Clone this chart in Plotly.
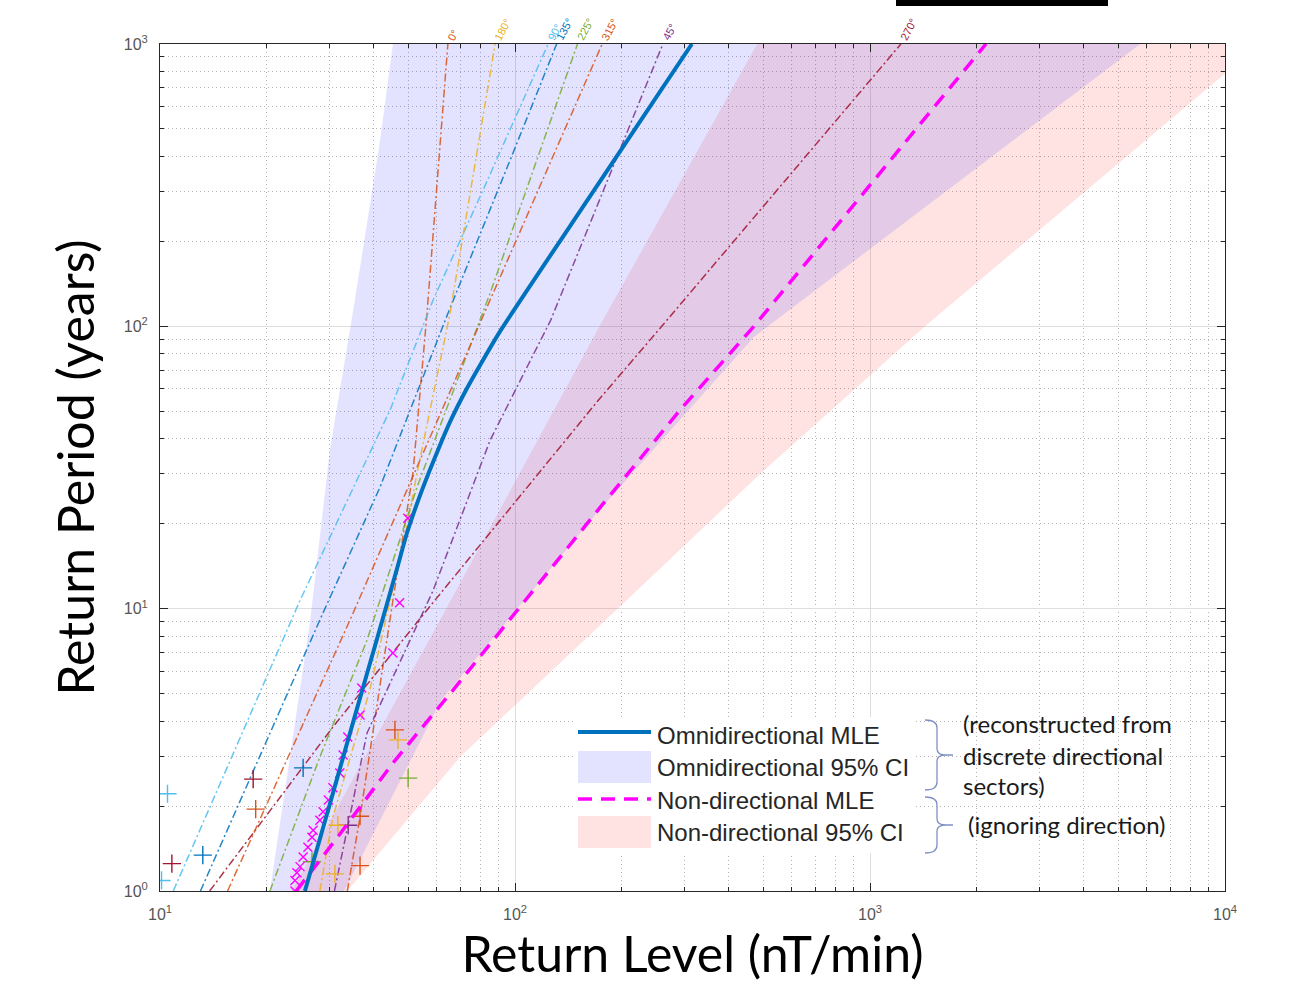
import numpy as np
import plotly.graph_objects as go

# ---------------- data ----------------
x_tickvals = [10, 100, 1000, 10000]
x_ticktext = ["10<sup>1</sup>", "10<sup>2</sup>", "10<sup>3</sup>", "10<sup>4</sup>"]
y_tickvals = [1, 10, 100, 1000]
y_ticktext = ["10<sup>0</sup>", "10<sup>1</sup>", "10<sup>2</sup>", "10<sup>3</sup>"]

# Omnidirectional MLE (return period in years, return level in nT/min)
omni_T = [1.0, 1.89, 2.98, 4.38, 7.94, 13.7, 18.5, 26.3, 36.5, 46.6, 59.5, 76.0,
          97.1, 280, 1000]
omni_RL = [25.6, 29.6, 32.8, 35.8, 41.0, 46.4, 49.6, 54.7, 60.7, 66.0, 72.8, 81.3,
           91.3, 160, 315]

# Omnidirectional 95% CI
omni_lo_T = [1.0, 4.38, 9.12, 36.5, 124, 457, 1000]
omni_lo_RL = [20.4, 24.3, 26.5, 30.1, 35.4, 41.7, 45.3]
omni_hi_T = [1.0, 4.75, 22.0, 91.7, 1000]
omni_hi_RL = [33.0, 62.0, 171, 471, 5768]

# Non-directional MLE
nd_T = [1.0, 1.54, 2.84, 5.15, 23.3, 51.4, 100, 312, 1000]
nd_RL = [24.2, 31.5, 45.3, 66.9, 176, 295, 471, 994, 2122]

# Non-directional 95% CI
nd_lo_T = [1.0, 9.12, 100, 1000]
nd_lo_RL = [23.5, 61.5, 173, 481]
nd_hi_T = [1.0, 2.98, 11.0, 30.5, 100, 771, 1000]
nd_hi_RL = [33.7, 70.0, 211, 497, 1429, 9820, 12500]

# Non-directional empirical points
nd_emp_T = [1.0, 1.09, 1.16, 1.22, 1.32, 1.43, 1.55, 1.64, 1.78, 1.91,
            2.10, 2.32, 2.62, 3.03, 3.51, 4.20, 5.24, 6.97, 10.5, 20.9]
nd_emp_RL = [24.0, 24.0, 24.3, 24.8, 25.3, 26.1, 26.8, 27.0, 28.2, 28.8,
             29.8, 30.7, 32.1, 32.8, 33.8, 36.6, 37.0, 45.3, 47.3, 49.9]

# Directional sector fits
dir_labels = ["0°", "45°", "90°", "135°", "180°", "225°", "270°", "315°"]
T_0 = [1.0, 1.83, 10.7, 30.3, 111, 1000]
RL_0 = [33.7, 36.6, 45.3, 51.6, 56.5, 64.7]
T_45 = [1.0, 3.63, 11.6, 39.5, 105, 484, 1000]
RL_45 = [31.0, 38.3, 58.8, 85.1, 126, 207, 261]
T_90 = [1.0, 10.7, 50.6, 124, 304, 1000]
RL_90 = [10.9, 24.8, 44.5, 58.8, 81.3, 124]
T_135 = [1.0, 9.12, 27.0, 111, 411, 1000]
RL_135 = [13.0, 28.2, 41.7, 64.7, 98.7, 131]
T_180 = [1.0, 1.83, 5.15, 19.5, 30.3, 111, 1000]
RL_180 = [28.2, 30.7, 39.0, 49.6, 53.0, 65.6, 87.9]
T_225 = [1.0, 2.98, 7.74, 27.0, 131, 411, 1000]
RL_225 = [20.4, 28.2, 38.3, 53.0, 85.1, 117, 150]
T_270 = [1.0, 3.81, 10.0, 54.4, 100, 1000]
RL_270 = [13.8, 30.7, 56.9, 171, 259, 1222]
T_315 = [1.0, 9.12, 31.8, 117, 398, 1000]
RL_315 = [15.5, 34.3, 53.0, 83.4, 128, 176]

# Directional empirical points
emp_T_0 = [1.23, 3.72]
emp_RL_0 = [36.6, 45.9]
emp_T_45 = [1.71]
emp_RL_45 = [33.9]
emp_T_90 = [2.21, 1.09]
emp_RL_90 = [10.5, 10.1]
emp_T_135 = [1.34, 2.73]
emp_RL_135 = [13.2, 25.3]
emp_T_180 = [1.15, 1.71, 3.43]
emp_RL_180 = [31.1, 31.7, 46.8]
emp_T_225 = [1.27, 2.51]
emp_RL_225 = [26.8, 50.0]
emp_T_270 = [1.25, 2.49]
emp_RL_270 = [10.8, 18.3]
emp_T_315 = [1.95, 1.84]
emp_RL_315 = [18.6, 36.6]

legend_labels = ["Omnidirectional MLE", "Omnidirectional 95% CI",
                 "Non-directional MLE", "Non-directional 95% CI"]
note_lines_1 = ["(reconstructed from", "discrete directional", "sectors)"]
note_line_2 = "(ignoring direction)"

# ---------------- styles ----------------
dir_colors = ["#D95319", "#7E2F8E", "#4DBEEE", "#0072BD",
              "#EDB120", "#77AC30", "#A2142F", "#D95319"]
dir_curves = [(T_0, RL_0), (T_45, RL_45), (T_90, RL_90), (T_135, RL_135),
              (T_180, RL_180), (T_225, RL_225), (T_270, RL_270), (T_315, RL_315)]
dir_emp = [(emp_T_0, emp_RL_0), (emp_T_45, emp_RL_45), (emp_T_90, emp_RL_90),
           (emp_T_135, emp_RL_135), (emp_T_180, emp_RL_180), (emp_T_225, emp_RL_225),
           (emp_T_270, emp_RL_270), (emp_T_315, emp_RL_315)]

OMNI_FILL = "rgba(40,40,255,0.13)"
ND_FILL = "rgba(255,40,40,0.13)"
BLUE = "#0072BD"
MAG = "#FF00FF"

fig = go.Figure()

# CI bands
fig.add_trace(go.Scatter(x=nd_lo_RL + nd_hi_RL[::-1], y=nd_lo_T + nd_hi_T[::-1],
                         fill="toself", fillcolor=ND_FILL, mode="none",
                         name=legend_labels[3], hoverinfo="skip"))
fig.add_trace(go.Scatter(x=omni_lo_RL + omni_hi_RL[::-1], y=omni_lo_T + omni_hi_T[::-1],
                         fill="toself", fillcolor=OMNI_FILL, mode="none",
                         name=legend_labels[1], hoverinfo="skip"))

# directional curves
for lab, col, (tt, rr) in zip(dir_labels, dir_colors, dir_curves):
    fig.add_trace(go.Scatter(x=rr, y=tt, mode="lines", name=lab, opacity=0.85,
                             line=dict(color=col, width=1.5, dash="8px,3px,2px,3px")))
# directional empirical points
for lab, col, (tt, rr) in zip(dir_labels, dir_colors, dir_emp):
    fig.add_trace(go.Scatter(x=rr, y=tt, mode="markers", name=lab + " data",
                             marker=dict(symbol="cross-thin", size=13,
                                         line=dict(color=col, width=1.4))))

# non-directional empirical points
fig.add_trace(go.Scatter(x=nd_emp_RL, y=nd_emp_T, mode="markers", name="Non-directional data",
                         marker=dict(symbol="x-thin", size=9, line=dict(color=MAG, width=1.4))))

# MLE curves
fig.add_trace(go.Scatter(x=nd_RL, y=nd_T, mode="lines", name=legend_labels[2],
                         line=dict(color=MAG, width=3.5, dash="14px,9px")))
fig.add_trace(go.Scatter(x=omni_RL, y=omni_T, mode="lines", name=legend_labels[0],
                         line=dict(color=BLUE, width=4, shape="spline", smoothing=0.6)))

# ---------------- layout ----------------
W, H = 1303, 989
L, R, T, B = 160, 1225, 44, 891


def pxx(v):
    return (v - L) / (R - L)


def pyy(v):
    return (B - v) / (B - T)


axis_common = dict(
    type="log", ticks="inside", ticklen=8, tickcolor="#262626",
    showline=True, linecolor="#262626", linewidth=1, mirror="ticks",
    showgrid=True, gridcolor="#dedede", gridwidth=1, zeroline=False,
    tickmode="array",
    tickfont=dict(family="Liberation Sans, Arial, sans-serif", size=16, color="#555555"),
    minor=dict(dtick="D1", ticks="inside", ticklen=4, tickcolor="#262626",
               showgrid=True, gridcolor="#b4b4b4", griddash="1px,3px", gridwidth=1),
)

fig.update_layout(
    width=W, height=H,
    margin=dict(l=L, r=W - R, t=T, b=H - B, autoexpand=False),
    paper_bgcolor="white", plot_bgcolor="white", showlegend=False,
    xaxis=dict(axis_common, range=[1, 4], tickvals=x_tickvals, ticktext=x_ticktext,
               ticklabelstandoff=9,
               title=dict(text="Return Level (nT/min)",
                          font=dict(family="Lato", size=50, color="black"), standoff=0)),
    yaxis=dict(axis_common, range=[0, 3], tickvals=y_tickvals, ticktext=y_ticktext,
               ticklabelstandoff=8,
               title=dict(text="Return Period (years)",
                          font=dict(family="Lato", size=50, color="black"), standoff=13)),
)

shapes = []
annotations = []

# direction labels at the top ends of the sector curves
for lab, col, (tt, rr) in zip(dir_labels, dir_colors, dir_curves):
    w = 6.2 * len(lab)
    annotations.append(dict(
        x=np.log10(rr[-1]), y=np.log10(tt[-1]), xref="x", yref="y",
        text=lab, showarrow=False, textangle=-62,
        font=dict(family="Liberation Sans, Arial", size=11, color=col),
        xanchor="center", yanchor="middle",
        xshift=w / 2 * 0.47 + 2, yshift=w / 2 * 0.88 + 4))

# legend box
shapes.append(dict(type="rect", xref="paper", yref="paper", layer="above",
                   x0=pxx(575), x1=pxx(915), y0=pyy(853), y1=pyy(717),
                   fillcolor="white", line=dict(width=0)))
shapes.append(dict(type="line", xref="paper", yref="paper", layer="above",
                   x0=pxx(578), x1=pxx(651), y0=pyy(732), y1=pyy(732),
                   line=dict(color=BLUE, width=4)))
shapes.append(dict(type="rect", xref="paper", yref="paper", layer="above",
                   x0=pxx(578), x1=pxx(651), y0=pyy(783), y1=pyy(751),
                   fillcolor=OMNI_FILL, line=dict(width=0)))
shapes.append(dict(type="line", xref="paper", yref="paper", layer="above",
                   x0=pxx(578), x1=pxx(651), y0=pyy(799), y1=pyy(799),
                   line=dict(color=MAG, width=3.5, dash="14px,9px")))
shapes.append(dict(type="rect", xref="paper", yref="paper", layer="above",
                   x0=pxx(578), x1=pxx(651), y0=pyy(848), y1=pyy(816),
                   fillcolor=ND_FILL, line=dict(width=0)))
for lab, yy in zip(legend_labels, [735, 767, 800, 832]):
    annotations.append(dict(x=pxx(655), y=pyy(yy), xref="paper", yref="paper",
                            text=lab, showarrow=False, xanchor="left", yanchor="middle",
                            font=dict(family="Liberation Sans, Arial", size=24, color="#262626")))


# curly braces
def brace(ytop, ybot, x0=925, xs=937, xt=946, xe=953):
    ym = (ytop + ybot) / 2
    pts = [
        ("M", [(x0, ytop)]),
        ("Q", [(xs, ytop), (xs, ytop + 8)]),
        ("L", [(xs, ym - 6)]),
        ("Q", [(xs, ym), (xt, ym)]),
        ("Q", [(xs, ym), (xs, ym + 6)]),
        ("L", [(xs, ybot - 8)]),
        ("Q", [(xs, ybot), (x0, ybot)]),
        ("M", [(xt, ym)]),
        ("L", [(xe, ym)]),
    ]
    s = ""
    for cmd, pp in pts:
        s += cmd + " " + " ".join("%.5f,%.5f" % (pxx(a), pyy(b)) for a, b in pp) + " "
    return s.strip()


for yt, yb in [(720, 790), (797, 853)]:
    shapes.append(dict(type="path", xref="paper", yref="paper", layer="above",
                       path=brace(yt, yb), line=dict(color="#7f90c4", width=1.3)))

for txt, yy in zip(note_lines_1, [723, 755, 785]):
    annotations.append(dict(x=pxx(961), y=pyy(yy), xref="paper", yref="paper",
                            text=txt, showarrow=False, xanchor="left", yanchor="middle",
                            font=dict(family="Lato", size=24, color="#1a1a1a")))
annotations.append(dict(x=pxx(966), y=pyy(824), xref="paper", yref="paper",
                        text=note_line_2, showarrow=False, xanchor="left", yanchor="middle",
                        font=dict(family="Lato", size=24, color="#1a1a1a")))

# black bar at the top of the slide
shapes.append(dict(type="rect", xref="paper", yref="paper", layer="above",
                   x0=pxx(896), x1=pxx(1108), y0=pyy(6), y1=pyy(0),
                   fillcolor="black", line=dict(width=0)))

fig.update_layout(shapes=shapes, annotations=annotations)

fig.write_html("out.html", config={"displayModeBar": False},
               post_script="document.body.style.margin='0px';document.body.style.padding='0px';")
